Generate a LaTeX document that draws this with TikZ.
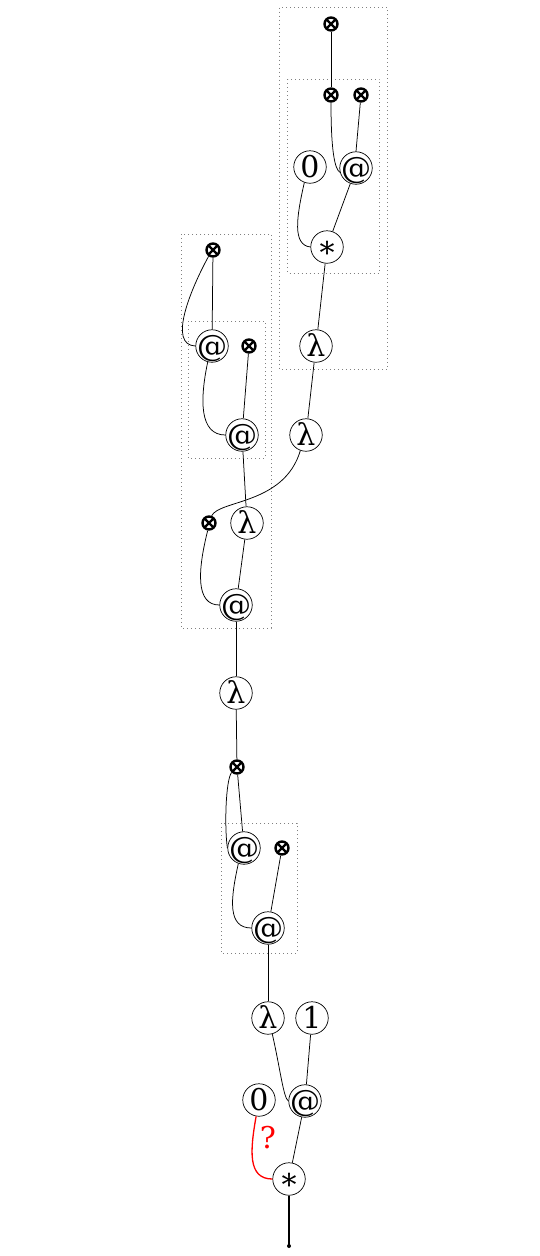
\documentclass[tikz,border=0pt]{standalone}
\usepackage{fontspec}
\setmainfont{DejaVu Serif}
\newcommand{\lbl}[2][-0.36em]{\makebox[0pt]{\smash{\raisebox{#1}{#2}}}}
\begin{document}
\begin{tikzpicture}[x=1pt,y=-1pt,
  nd/.style={circle,draw,line width=0.7pt,minimum size=32.5pt,inner sep=0pt,font=\fontsize{30}{32}\selectfont},
  ox/.style={circle,draw,line width=2.4pt,minimum size=13pt,inner sep=0pt,
    path picture={\draw[line width=2.4pt] (path picture bounding box.north west)--(path picture bounding box.south east)
      (path picture bounding box.north east)--(path picture bounding box.south west);}},
  ed/.style={line width=0.75pt},
  grp/.style={draw=gray,line width=0.9pt,dash pattern=on 0.9pt off 3.1pt}]
\useasboundingbox (0,0) rectangle (539,1256);
% groups
\draw[grp] (279.5,7.5) rectangle (387.5,369);
\draw[grp] (287.5,79) rectangle (379.5,273);
\draw[grp] (181,234) rectangle (271,628);
\draw[grp] (188,321) rectangle (265,458);
\draw[grp] (221,823) rectangle (297,953);
% nodes
\node[ox] (xa) at (331,24) {};
\node[ox] (xb) at (331,95) {};
\node[ox] (xc) at (361,95) {};
\node[nd] (z0) at (310,167) {\lbl{0}};
\node[nd] (ap1) at (356,168) {\lbl{@}};
\node[nd] (st1) at (327,247) {\lbl[-0.55em]{*}};
\node[nd] (l1) at (316,346) {\lbl{λ}};
\node[nd] (l2) at (306,435) {\lbl{λ}};
\node[ox] (xd) at (213,250) {};
\node[nd] (ap2) at (212,346) {\lbl{@}};
\node[ox] (xe) at (249,346) {};
\node[nd] (ap3) at (242,435) {\lbl{@}};
\node[ox] (xf) at (209,523) {};
\node[nd] (l3) at (247,523) {\lbl{λ}};
\node[nd] (ap4) at (236,605) {\lbl{@}};
\node[nd] (l4) at (236,693) {\lbl{λ}};
\node[ox] (xg) at (237,767) {};
\node[nd] (ap5) at (244,848) {\lbl{@}};
\node[ox] (xh) at (282,848) {};
\node[nd] (ap6) at (268,928) {\lbl{@}};
\node[nd] (l5) at (268,1018) {\lbl{λ}};
\node[nd] (one) at (312,1018) {\lbl{1}};
\node[nd] (z1) at (259,1100) {\lbl{0}};
\node[nd] (ap7) at (305,1101) {\lbl{@}};
\node[nd] (st2) at (289,1179) {\lbl[-0.55em]{*}};
\node[circle,fill,inner sep=0pt,minimum size=4pt] (dot) at (289,1246) {};
\node[text=red,font=\fontsize{30}{32}\selectfont,inner sep=0pt] (q) at (268,1138) {\lbl{?}};
% edges
\draw[ed] (xa) -- (xb);
\draw[ed] (xb.south) .. controls +(0,50) and +(-5,-3) .. (ap1.195);
\draw[ed] (xc) -- (ap1.north);
\draw[ed] (z0.250) .. controls +(-8,35) and +(-18,-2) .. (st1.west);
\draw[ed] (ap1.250) -- (st1.70);
\draw[ed] (st1) -- (l1);
\draw[ed] (l1) -- (l2);
\draw[ed] (xd) -- (ap2);
\draw[ed] (xd.235) .. controls +(-18,33) and +(-28,-1) .. (ap2.west);
\draw[ed] (xe) -- (ap3);
\draw[ed] (ap2.255) .. controls +(-8,38) and +(-26,0) .. (ap3.west);
\draw[ed] (ap3) -- (l3);
\draw[ed] (l2.250) .. controls +(-16,54) and +(8,-16) .. (xf.70);
\draw[ed] (xf.260) .. controls +(-10,40) and +(-24,0) .. (ap4.west);
\draw[ed] (l3) -- (ap4);
\draw[ed] (ap4) -- (l4);
\draw[ed] (l4) -- (xg);
\draw[ed] (xg) -- (ap5);
\draw[ed] (xg.225) .. controls +(-6,8) and +(-3,-20) .. (ap5.west);
\draw[ed] (xh) -- (ap6);
\draw[ed] (ap5.250) .. controls +(-8,36) and +(-24,0) .. (ap6.west);
\draw[ed] (ap6) -- (l5);
\draw[ed] (l5.285) .. controls +(8,35) and +(-5,-3) .. (ap7.west);
\draw[ed] (one) -- (ap7);
\draw[red,line width=1.3pt] (z1.260) .. controls +(-6,34) and +(-25,0) .. (st2.west);
\draw[ed] (ap7) -- (st2);
\draw[line width=1.5pt] (st2.south) -- (dot.center);
\end{tikzpicture}
\end{document}
